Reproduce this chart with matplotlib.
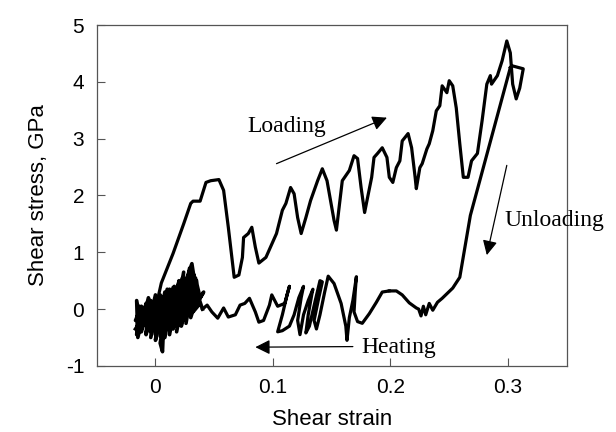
import matplotlib
matplotlib.use("Agg")
import matplotlib.pyplot as plt

# ── data (shear strain, shear stress in GPa) ────────────────────────────────
load_strain = [0.000, 0.005, 0.015, 0.024, 0.030, 0.032, 0.038, 0.043, 0.047, 0.054,
               0.058, 0.062, 0.067, 0.071, 0.074, 0.075, 0.079, 0.082, 0.085, 0.088,
               0.094, 0.103, 0.108, 0.111, 0.115, 0.118, 0.121, 0.124, 0.128, 0.132,
               0.138, 0.142, 0.146, 0.152, 0.154, 0.156, 0.159, 0.165, 0.169, 0.172,
               0.175, 0.178, 0.180, 0.184, 0.186, 0.189, 0.193, 0.197, 0.199, 0.202,
               0.205, 0.208, 0.210, 0.215, 0.218, 0.221, 0.222, 0.225, 0.227, 0.231,
               0.233, 0.236, 0.239, 0.242, 0.244, 0.248, 0.250, 0.253, 0.256, 0.259,
               0.262, 0.266, 0.269, 0.274, 0.278, 0.282, 0.285, 0.286, 0.291, 0.295,
               0.299, 0.302, 0.304, 0.307, 0.310, 0.313, 0.304, 0.302]
load_stress = [0.00, 0.46, 0.98, 1.50, 1.86, 1.90, 1.90, 2.23, 2.26, 2.28,
               2.09, 1.44, 0.56, 0.60, 0.91, 1.26, 1.33, 1.44, 1.09, 0.81,
               0.91, 1.33, 1.74, 1.86, 2.14, 2.03, 1.61, 1.33, 1.61, 1.91,
               2.26, 2.47, 2.26, 1.56, 1.39, 1.74, 2.26, 2.44, 2.70, 2.65,
               2.14, 1.70, 1.91, 2.32, 2.67, 2.74, 2.84, 2.67, 2.32, 2.23,
               2.49, 2.61, 2.96, 3.09, 2.84, 2.32, 2.12, 2.49, 2.56, 2.82,
               2.91, 3.14, 3.49, 3.58, 3.93, 3.81, 4.02, 3.93, 3.54, 2.91,
               2.32, 2.32, 2.61, 2.74, 3.32, 3.96, 4.11, 3.96, 4.11, 4.37,
               4.72, 4.51, 3.96, 3.70, 3.89, 4.23, 4.28, 4.25]

unload_strain = [0.302, 0.276, 0.268, 0.259, 0.253, 0.244, 0.240, 0.236, 0.233, 0.230,
                 0.228, 0.226, 0.224, 0.222, 0.216, 0.210, 0.205, 0.199]
unload_stress = [4.25, 2.26, 1.65, 0.56, 0.37, 0.19, 0.12, -0.02, 0.10, -0.10,
                 0.05, -0.12, 0.00, 0.02, 0.11, 0.25, 0.32, 0.32]

heat_strain = [0.199, 0.193, 0.188, 0.182, 0.176, 0.172, 0.169, 0.170, 0.171, 0.168,
               0.165, 0.163, 0.162, 0.158, 0.152, 0.147, 0.144, 0.140, 0.137, 0.135,
               0.139, 0.142, 0.140, 0.136, 0.131, 0.128, 0.130, 0.133, 0.134, 0.130,
               0.126, 0.123, 0.121, 0.124, 0.126, 0.122, 0.118, 0.114, 0.108, 0.104,
               0.108, 0.112, 0.114, 0.110, 0.104, 0.099, 0.097, 0.092, 0.088, 0.085,
               0.080, 0.076, 0.072, 0.068, 0.062, 0.058, 0.053, 0.048, 0.044, 0.040]
heat_stress = [0.32, 0.30, 0.12, -0.08, -0.25, -0.22, -0.05, 0.30, 0.57, 0.15,
               -0.15, -0.55, -0.30, 0.10, 0.45, 0.58, 0.30, -0.10, -0.35, -0.20,
               0.20, 0.48, 0.50, 0.15, -0.30, -0.42, -0.10, 0.25, 0.35, 0.15,
               -0.10, -0.45, -0.20, 0.20, 0.40, 0.20, -0.10, -0.30, -0.38, -0.40,
               -0.10, 0.25, 0.40, 0.10, 0.05, 0.25, 0.07, -0.20, -0.23, -0.05,
               0.19, 0.10, 0.07, -0.10, -0.14, 0.02, -0.16, -0.05, 0.07, 0.00]

# cycling near zero strain (dense blob)
blob_strain = [0.040, 0.036, 0.030, 0.033, 0.026, 0.029, 0.022, 0.027, 0.018, 0.024,
               0.015, 0.020, 0.012, 0.016, 0.008, 0.012, 0.004, 0.006, 0.008, 0.000,
               0.004, -0.004, 0.000, -0.008, -0.004, -0.012, -0.008, -0.015, -0.016, -0.012,
               -0.006, 0.002, 0.010, 0.018, 0.025, 0.031, 0.034, 0.028, 0.020, 0.012,
               0.004, -0.004, -0.012, -0.017, -0.010, 0.000, 0.010, 0.020, 0.030, 0.038,
               0.032, 0.035, 0.028, 0.031, 0.024, 0.027, 0.020, 0.023, 0.016, 0.019,
               0.012, 0.015, 0.008, 0.011, 0.004, 0.007, 0.000, 0.003, -0.004, -0.001,
               -0.008, -0.005, -0.012, -0.009, -0.016, -0.014, -0.010, -0.006, -0.002, 0.002,
               0.006, 0.010, 0.014, 0.018, 0.022, 0.026, 0.030, 0.034, 0.038, 0.041,
               0.036, 0.030, 0.024, 0.018, 0.012, 0.006, 0.000, -0.006, -0.012, -0.017]
blob_stress = [0.00, 0.25, -0.15, 0.60, -0.25, 0.72, -0.30, 0.55, -0.40, 0.65,
               -0.35, 0.50, -0.45, 0.40, -0.50, 0.35, -0.60, -0.75, 0.30, -0.55,
               0.20, -0.50, 0.25, -0.45, 0.15, -0.40, 0.10, -0.50, 0.15, -0.30,
               0.20, -0.35, 0.35, -0.20, 0.45, 0.80, 0.40, 0.00, 0.30, -0.15,
               0.25, -0.25, 0.05, -0.20, -0.10, 0.05, 0.10, 0.05, 0.15, 0.10,
               -0.05, 0.50, -0.10, 0.68, -0.20, 0.45, -0.28, 0.55, -0.30, 0.42,
               -0.38, 0.38, -0.42, 0.30, -0.48, 0.22, -0.45, 0.18, -0.40, 0.10,
               -0.42, 0.05, -0.35, 0.00, -0.45, 0.05, -0.20, 0.12, -0.25, 0.18,
               -0.15, 0.25, -0.08, 0.30, 0.00, 0.40, 0.05, 0.55, 0.20, 0.30,
               0.12, 0.22, 0.02, 0.12, -0.05, 0.02, -0.12, -0.08, -0.20, -0.35]

xticks = [0, 0.1, 0.2, 0.3]
yticks = [-1, 0, 1, 2, 3, 4, 5]

SANS = "Liberation Sans"
SERIF = "Liberation Serif"
plt.rcParams["axes.unicode_minus"] = False

fig = plt.figure(figsize=(6.16, 4.32), dpi=100)
ax = fig.add_axes([0.157, 0.153, 0.763, 0.789])

lw = 2.3
ax.plot(load_strain, load_stress, color="black", lw=lw, solid_joinstyle="round")
ax.plot(unload_strain, unload_stress, color="black", lw=lw, solid_joinstyle="round")
ax.plot(heat_strain, heat_stress, color="black", lw=lw, solid_joinstyle="round")
ax.plot(blob_strain, blob_stress, color="black", lw=2.6, solid_joinstyle="round")

ax.set_xlim(-0.05, 0.35)
ax.set_ylim(-1, 5)
ax.set_xticks(xticks)
ax.set_xticklabels(["0", "0.1", "0.2", "0.3"])
ax.set_yticks(yticks)
ax.tick_params(direction="in", length=6, width=0.8, color="#555555",
               labelsize=15, pad=9)
for lab in ax.get_xticklabels() + ax.get_yticklabels():
    lab.set_fontfamily(SANS)
for sp in ax.spines.values():
    sp.set_color("#555555")
    sp.set_linewidth(0.9)

ax.set_xlabel("Shear strain", fontsize=16, fontfamily=SANS, labelpad=8)
ax.set_ylabel("Shear stress, GPa", fontsize=16, fontfamily=SANS, labelpad=12)

# annotations
arrow = dict(arrowstyle="-|>", color="black", lw=0.9, mutation_scale=22,
             shrinkA=0, shrinkB=0)
ax.text(0.078, 3.21, "Loading", fontsize=17, fontfamily=SERIF, va="center")
ax.annotate("", xy=(0.197, 3.37), xytext=(0.103, 2.56), arrowprops=arrow)
ax.text(0.297, 1.56, "Unloading", fontsize=17, fontfamily=SERIF, va="center",
        clip_on=False)
ax.annotate("", xy=(0.282, 0.95), xytext=(0.299, 2.53), arrowprops=arrow)
ax.text(0.175, -0.67, "Heating", fontsize=17, fontfamily=SERIF, va="center")
ax.annotate("", xy=(0.085, -0.67), xytext=(0.168, -0.66), arrowprops=arrow)

fig.savefig("out.png", dpi=100)
